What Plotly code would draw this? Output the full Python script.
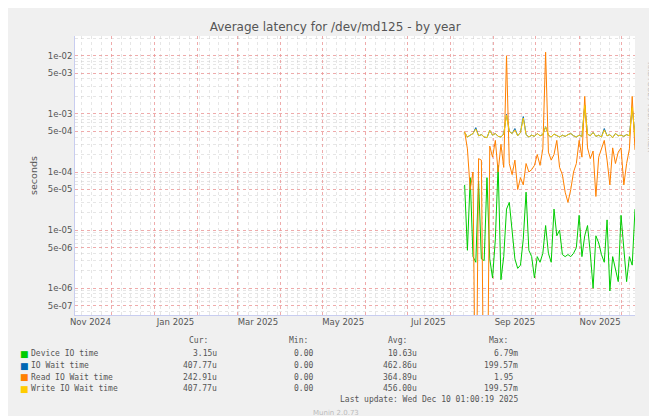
import datetime as dt
import plotly.graph_objects as go

# daily-ish samples (every 2 days) from Aug 11 2025
start = dt.datetime(2025, 8, 11)
dates = [start + dt.timedelta(days=2 * i) for i in range(62)]

ZERO = 1e-9  # read wait dropped to 0 (off the log scale)

device_io = [6e-5, 4.5e-6, 8e-5, 3.5e-6, 2.8e-6, 7e-5, 3.2e-6, 3.0e-6, 8e-5, 3.2e-6,
             1.5e-6, 7e-6, 1.3e-4, 1.4e-6, 3.5e-6, 2.3e-5, 3.0e-5, 9e-6, 3.2e-6, 2.2e-6,
             2.5e-6, 7e-6, 4.5e-5, 4.5e-6, 3.5e-6, 1.5e-6, 3.5e-6, 2.8e-6, 4e-6, 1.2e-5,
             4e-6, 2.8e-6, 2.3e-5, 8e-6, 1.0e-5, 3.8e-6, 3.5e-6, 3.8e-6, 3.5e-6, 4e-6,
             5e-6, 1.8e-5, 3.5e-6, 8e-6, 1.2e-5, 4e-6, 1.0e-6, 8e-6, 6e-6, 3.8e-6,
             2.8e-6, 1.5e-5, 9e-7, 3.5e-6, 2.2e-6, 1.3e-6, 1.8e-5, 4.5e-6, 1.3e-6, 3.5e-6,
             2.5e-6, 2.3e-5]

io_wait = [4.8e-4, 4.0e-4, 4.3e-4, 4.6e-4, 5.8e-4, 4.2e-4, 4.4e-4, 4.0e-4, 3.9e-4, 5.2e-4,
           4.3e-4, 4.6e-4, 4.1e-4, 4.0e-4, 4.5e-4, 9.8e-4, 5.0e-4, 4.6e-4, 5.6e-4, 4.2e-4,
           4.8e-4, 9.0e-4, 4.4e-4, 4.0e-4, 4.3e-4, 4.1e-4, 4.6e-4, 4.2e-4, 4.4e-4, 6.0e-4,
           4.3e-4, 4.0e-4, 4.5e-4, 4.2e-4, 4.0e-4, 4.3e-4, 4.1e-4, 4.4e-4, 4.6e-4, 4.2e-4,
           4.0e-4, 4.3e-4, 4.1e-4, 1.4e-3, 4.5e-4, 4.2e-4, 4.8e-4, 4.1e-4, 4.3e-4, 4.0e-4,
           5.6e-4, 4.2e-4, 4.4e-4, 3.9e-4, 4.6e-4, 4.2e-4, 4.3e-4, 4.1e-4, 4.4e-4, 4.2e-4,
           1.3e-3, 4.1e-4]

read_wait = [5e-4, 2.5e-4, 5e-5, 1e-4, ZERO, 1.7e-4, 1.6e-4, ZERO, ZERO, 2.8e-4,
             1.8e-4, 3.5e-4, 1.0e-4, 3.0e-4, 1.2e-4, 1.0e-2, 1.4e-4, 9e-5, 1.6e-4, 5e-5,
             8e-5, 6e-5, 1.4e-4, 1.0e-4, 1.1e-4, 1.3e-4, 2.0e-4, 1.3e-4, 2.5e-4, 1.15e-2,
             2.2e-4, 1.6e-4, 2.0e-4, 3.5e-4, 1.2e-4, 9e-5, 4.5e-5, 3.0e-5, 5e-5, 1.0e-4,
             1.4e-4, 3.5e-4, 1.8e-4, 2.0e-3, 2.6e-4, 1.7e-4, 2.3e-4, 3.8e-5, 1.8e-4, 2.6e-4,
             3.5e-4, 1.6e-4, 6e-5, 2.6e-4, 1.4e-4, 2.2e-4, 2.6e-4, 6e-5, 1.4e-4, 2.5e-4,
             2.0e-3, 2.4e-4]

write_wait = [4.8e-4, 4.0e-4, 4.3e-4, 4.6e-4, 5.5e-4, 4.2e-4, 4.4e-4, 4.0e-4, 3.9e-4, 5.2e-4,
              4.3e-4, 4.6e-4, 4.1e-4, 4.0e-4, 4.5e-4, 9.5e-4, 5.0e-4, 4.6e-4, 5.3e-4, 4.2e-4,
              4.8e-4, 8.5e-4, 4.4e-4, 4.0e-4, 4.3e-4, 4.1e-4, 4.6e-4, 4.2e-4, 4.4e-4, 6.0e-4,
              4.3e-4, 4.0e-4, 4.5e-4, 4.2e-4, 4.0e-4, 4.3e-4, 4.1e-4, 4.4e-4, 4.6e-4, 4.2e-4,
              4.0e-4, 4.3e-4, 4.1e-4, 1.4e-3, 4.5e-4, 4.2e-4, 4.8e-4, 4.1e-4, 4.3e-4, 4.0e-4,
              5.3e-4, 4.2e-4, 4.4e-4, 3.9e-4, 4.6e-4, 4.2e-4, 4.3e-4, 4.1e-4, 4.4e-4, 4.2e-4,
              1.3e-3, 4.1e-4]

names = ["Device IO time", "IO Wait time", "Read IO Wait time", "Write IO Wait time"]
colors = ["#00CC00", "#0066B3", "#FF8000", "#FFCC00"]
series = [device_io, io_wait, read_wait, write_wait]
cur = ["3.15u", "407.77u", "242.91u", "407.77u"]
mins = ["0.00", "0.00", "0.00", "0.00"]
avgs = ["10.63u", "462.86u", "364.89u", "456.00u"]
maxs = ["6.79m", "199.57m", "1.95", "199.57m"]

month_labels = ["Nov 2024", "Jan 2025", "Mar 2025", "May 2025", "Jul 2025", "Sep 2025", "Nov 2025"]
label_dates = ["2024-11-16", "2025-01-16", "2025-03-16", "2025-05-16", "2025-07-16", "2025-09-16", "2025-11-16"]
y_ticks = [1e-2, 5e-3, 1e-3, 5e-4, 1e-4, 5e-5, 1e-5, 5e-6, 1e-6, 5e-7]
y_labels = ["1e-02", "5e-03", "1e-03", "5e-04", "1e-04", "5e-05", "1e-05", "5e-06", "1e-06", "5e-07"]

x_range = ["2024-11-05", "2025-12-11"]

fig = go.Figure()
for name, color, ys in zip(names, colors, series):
    fig.add_trace(go.Scatter(x=dates, y=ys, mode="lines", name=name,
                             line=dict(color=color, width=1), showlegend=False))

# invisible trace on the label axis
fig.add_trace(go.Scatter(x=dates[:1], y=[1e-4], xaxis="x2", mode="lines",
                         line=dict(width=0), showlegend=False, hoverinfo="skip"))

grid_red = "rgba(235,150,150,0.8)"
grid_gray = "rgba(200,200,200,0.45)"
tickfont = dict(family="DejaVu Sans", size=8.5, color="#555")

fig.update_layout(
    width=657, height=416,
    paper_bgcolor="#F0F0F0", plot_bgcolor="white",
    margin=dict(l=67, r=30, t=28, b=109, autoexpand=False),
    title=dict(text="Average latency for /dev/md125 - by year", x=0.498, y=0.965,
               xanchor="center", font=dict(family="DejaVu Sans", size=12, color="#555")),
    xaxis=dict(type="date", range=x_range, tick0="2024-11-01", dtick="M1",
               showticklabels=False, ticks="", showgrid=True, gridcolor=grid_red,
               griddash="dot", gridwidth=1, zeroline=False, automargin=False,
               showline=True, linecolor="#c8cdf0",
               minor=dict(dtick=7 * 86400000, showgrid=True, gridcolor=grid_gray,
                          gridwidth=1)),
    xaxis2=dict(type="date", range=x_range, overlaying="x", side="bottom",
                tickvals=label_dates, ticktext=month_labels, showgrid=False,
                ticks="", tickfont=tickfont, zeroline=False, automargin=False),
    yaxis=dict(type="log", range=[-6.46, -1.66], tickvals=y_ticks, ticktext=y_labels,
               tickfont=tickfont, showgrid=True, gridcolor=grid_red, griddash="dot",
               ticks="", zeroline=False, showline=True, linecolor="#c8cdf0", automargin=False,
               minor=dict(tickvals=[m * 10 ** e for e in range(-7, -1) for m in (2, 3, 4, 6, 7, 8, 9)],
                          showgrid=True, gridcolor=grid_gray, gridwidth=1),
               title=dict(text="seconds", font=dict(family="DejaVu Sans", size=9.5, color="#555"),
                          standoff=8)),
)

mono = dict(family="DejaVu Sans Mono", size=8, color="#555")


def text(x, y, s, anchor="left", font=mono):
    fig.add_annotation(x=x, y=y, xref="paper", yref="paper", text=s, showarrow=False,
                       xanchor=anchor, yanchor="middle", font=font)


def px(x):
    return (x - 67) / 560


def py(y):
    return (307 - y) / 279


for hx, h in zip([202, 302, 401, 502], ["Cur:", "Min:", "Avg:", "Max:"]):
    text(px(hx), py(332), h, "right")
for i, (name, color) in enumerate(zip(names, colors)):
    y = py(346 + 11.6 * i)
    text(px(10), y, "■", font=dict(family="DejaVu Sans", size=9, color=color))
    text(px(21), y, name)
    text(px(211), y, cur[i], "right")
    text(px(307), y, mins[i], "right")
    text(px(411), y, avgs[i], "right")
    text(px(512) if maxs[i] != "1.95" else px(507), y, maxs[i], "right")
text(px(512), py(392), "Last update: Wed Dec 10 01:00:19 2025", "right")
text(px(328), py(405), "Munin 2.0.73", "center",
     font=dict(family="DejaVu Sans", size=7, color="#bbb"))
fig.add_annotation(x=px(648), y=py(52), xref="paper", yref="paper", text="RRDTOOL / TOBI OETIKER",
                   showarrow=False, textangle=90, font=dict(family="DejaVu Sans", size=7, color="#bbb"))

fig.write_html("out.html")
